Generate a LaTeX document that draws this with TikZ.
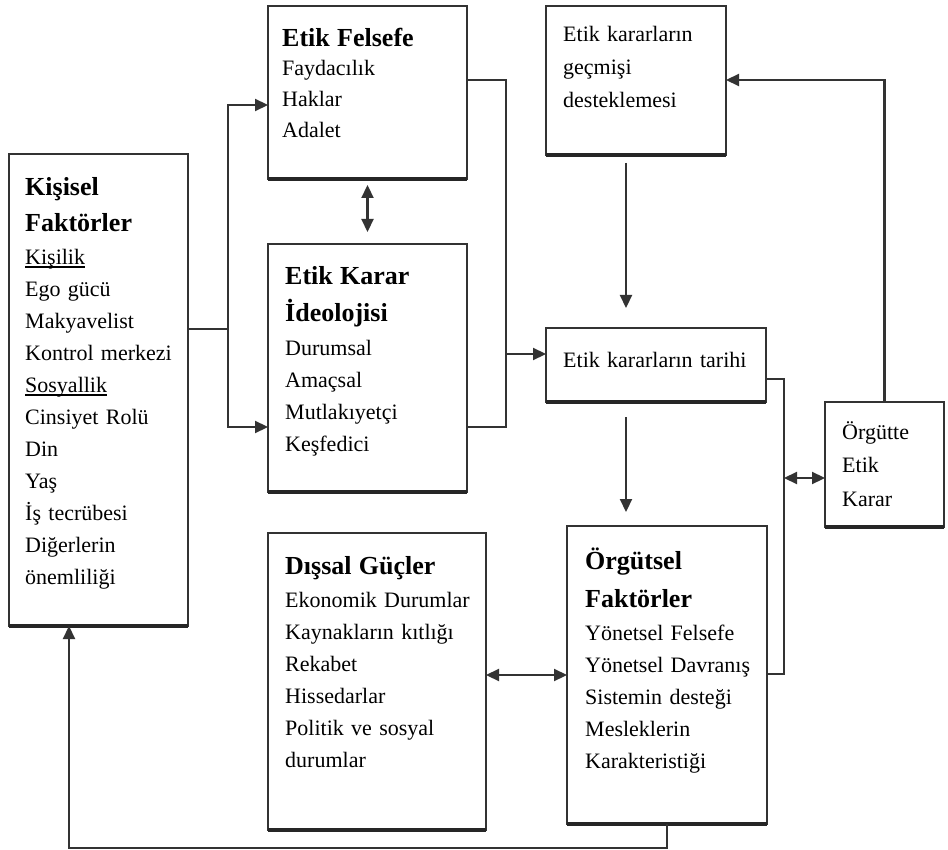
\documentclass[tikz,border=0pt]{standalone}
\usepackage{fontspec}
\setmainfont{Liberation Serif}
\usetikzlibrary{arrows.meta}
\newcommand\myul[1]{\leavevmode\setbox0\hbox{#1}\rlap{\rule[-3.5pt]{\wd0}{1.2pt}}\box0}
\newcommand\ttl{\fontsize{26}{32}\selectfont\bfseries}
\newcommand\fst{\leavevmode\rule{0pt}{24pt}}
\begin{document}
\begin{tikzpicture}[x=1pt,y=-1pt,
  box/.style={draw=black!80, line width=2pt, anchor=north west, inner sep=0pt, outer sep=0pt},
  txt/.style={anchor=north west, inner sep=0pt, align=left, text width=260pt, font=\fontsize{22}{32}\selectfont},
  ln/.style={draw=black!80, line width=2.2pt},
  base/.style={draw=black!85, line width=3.2pt},
  onearrow/.style={-{Triangle[length=13pt,width=12pt]}},
  twoarrow/.style={{Triangle[length=13pt,width=12pt]}-{Triangle[length=13pt,width=12pt]}}]
\fill[white] (0,0) rectangle (948,850);
\useasboundingbox (0,0) rectangle (948,850);

% boxes
\node[box, minimum width=179pt, minimum height=472pt] (kis) at (9,154) {};
\node[box, minimum width=199pt, minimum height=173pt] (ef) at (268,6) {};
\node[box, minimum width=199pt, minimum height=248pt] (ek) at (268,244) {};
\node[box, minimum width=180pt, minimum height=149pt] (gec) at (546,6) {};
\node[box, minimum width=220pt, minimum height=74pt] (tar) at (546,328) {};
\node[box, minimum width=119pt, minimum height=125pt] (oe) at (825,402) {};
\node[box, minimum width=218pt, minimum height=297pt] (dis) at (268,533) {};
\node[box, minimum width=200pt, minimum height=298pt] (org) at (567,526) {};
\foreach \b in {kis,ef,ek,gec,tar,oe,dis,org}
  \draw[base] (\b.south west) -- (\b.south east);

% texts
\node[txt] (kisT) at (25,171) {\fst{\ttl Kişisel}\\[4pt]{\ttl Faktörler}\\[1pt]\myul{Kişilik}\\Ego gücü\\Makyavelist\\Kontrol merkezi\\\myul{Sosyallik}\\Cinsiyet Rolü\\Din\\Yaş\\İş tecrübesi\\Diğerlerin\\önemliliği};
\node[txt] (efT) at (282,22) {\fst{\ttl Etik Felsefe}\\[-3pt]Faydacılık\\[-1pt]Haklar\\[-1pt]Adalet};
\node[txt] (ekT) at (285,260) {\fst{\ttl Etik Karar}\\[5pt]{\ttl İdeolojisi}\\[2pt]Durumsal\\Amaçsal\\Mutlakıyetçi\\Keşfedici};
\node[txt] (gecT) at (563,17) {\fst Etik kararların\\[1pt]geçmişi\\[1pt]desteklemesi};
\node[txt] (tarT) at (563,343) {\fst Etik kararların tarihi};
\node[txt] (oeT) at (842,415) {\fst Örgütte\\[1.5pt]Etik\\[1.5pt]Karar};
\node[txt] (disT) at (285,550) {\fst{\ttl Dışsal Güçler}\\[1pt]Ekonomik Durumlar\\Kaynakların kıtlığı\\Rekabet\\Hissedarlar\\Politik ve sosyal\\durumlar};
\node[txt] (orgT) at (585,545) {\fst{\ttl Örgütsel}\\[6pt]{\ttl Faktörler}\\[1pt]Yönetsel Felsefe\\Yönetsel Davranış\\Sistemin desteği\\Mesleklerin\\Karakteristiği};

% junction points
\coordinate (j1) at (228,329);
\coordinate (j2) at (506,80);
\coordinate (j3) at (506,354);
\coordinate (j4) at (784,379);
\coordinate (j5) at (784,478);
\coordinate (j6) at (69,848);

% connectors
\draw[ln] (kis.east |- j1) -- (j1);
\draw[ln,onearrow] (j1) |- (ef.west |- 0,105);
\draw[ln,onearrow] (j1) |- (ek.west |- 0,427);
\draw[ln,twoarrow,shorten <=6pt,shorten >=12pt] (ef.south) -- (ek.north);
\draw[ln] (ef.east |- j2) -- (j2) |- (ek.east |- 0,427);
\draw[ln,onearrow] (j3) -- (tar.west |- j3);
\draw[ln,onearrow,shorten <=8pt,shorten >=20pt] (626,0 |- gec.south) -- (626,0 |- tar.north);
\draw[ln,onearrow,shorten <=15pt,shorten >=14pt] (626,0 |- tar.south) -- (626,0 |- org.north);
\draw[ln] (tar.east |- j4) -- (j4) |- (org.east |- 0,674);
\draw[ln,twoarrow] (j5) -- (oe.west |- j5);
\draw[ln,onearrow] (oe.north) |- (gec.east |- j2);
\draw[ln,twoarrow] (dis.east |- 0,675) -- (org.west |- 0,675);
\draw[ln,onearrow] (org.south) |- (j6) -- (kis.south -| j6);
\end{tikzpicture}
\end{document}
